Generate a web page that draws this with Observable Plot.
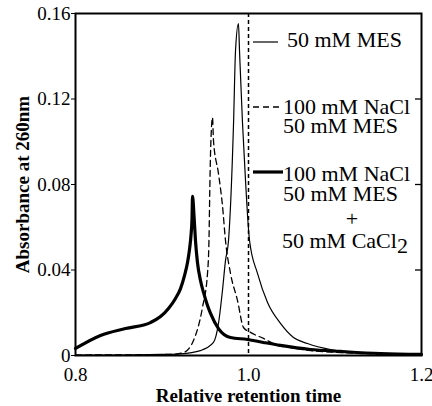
<!DOCTYPE html>
<html><head><meta charset="utf-8">
<script src="https://cdn.jsdelivr.net/npm/d3@7"></script>
<script src="https://cdn.jsdelivr.net/npm/@observablehq/plot@0.6"></script>
<style>
body{margin:0;background:#fff;}
#wrap{position:relative;width:432px;height:406px;}
[aria-label="x-axis label"] text,[aria-label="y-axis label"] text{font-weight:bold;}
</style></head><body><div id="wrap"></div>
<script>
// tick values and labels
const xTicks = [0.8, 1.0, 1.2];
const yTicks = [0, 0.04, 0.08, 0.12, 0.16];
const yTickLabels = ["0", "0.04", "0.08", "0.12", "0.16"];
const rightTicks = [0.04, 0.08, 0.12];
const refLine = [1.0];

// 50 mM MES (thin solid)
const mesX = [0.8000, 0.8520, 0.8983, 0.9214, 0.9445, 0.9595, 0.9653, 0.9699, 0.9734, 0.9769, 0.9827, 0.9850, 0.9884, 0.9896, 0.9931, 0.9942, 1.0012, 1.0104, 1.0220, 1.0370, 1.0520, 1.0682, 1.0948, 1.1295, 1.1642, 1.2000];
const mesY = [0.0002, 0.0002, 0.0005, 0.0008, 0.0023, 0.0061, 0.0150, 0.0304, 0.0444, 0.0538, 0.1085, 0.1427, 0.1553, 0.1427, 0.1085, 0.1000, 0.0538, 0.0384, 0.0248, 0.0150, 0.0084, 0.0056, 0.0028, 0.0014, 0.0007, 0.0005];

// 100 mM NaCl + 50 mM MES (dashed)
const naclX = [0.8000, 0.9098, 0.9249, 0.9364, 0.9468, 0.9526, 0.9543, 0.9553, 0.9561, 0.9584, 0.9595, 0.9653, 0.9699, 0.9734, 0.9792, 0.9873, 0.9942, 1.0023, 1.0173, 1.0335, 1.0486, 1.0717, 1.1064, 1.1526, 1.2000];
const naclY = [0.0002, 0.0005, 0.0014, 0.0070, 0.0225, 0.0384, 0.0538, 0.0786, 0.0945, 0.1113, 0.1006, 0.0851, 0.0702, 0.0538, 0.0384, 0.0257, 0.0131, 0.0108, 0.0080, 0.0047, 0.0037, 0.0023, 0.0014, 0.0007, 0.0005];

// 100 mM NaCl + 50 mM MES + 50 mM CaCl2 (thick)
const caX = [0.8000, 0.8289, 0.8578, 0.8867, 0.8983, 0.9075, 0.9156, 0.9214, 0.9260, 0.9295, 0.9318, 0.9335, 0.9347, 0.9353, 0.9370, 0.9387, 0.9410, 0.9445, 0.9480, 0.9526, 0.9561, 0.9653, 0.9792, 0.9988, 1.0173, 1.0370, 1.0717, 1.1064, 1.1526, 1.2000];
const caY = [0.0033, 0.0094, 0.0126, 0.0154, 0.0182, 0.0220, 0.0267, 0.0313, 0.0374, 0.0435, 0.0496, 0.0561, 0.0641, 0.0744, 0.0655, 0.0538, 0.0435, 0.0351, 0.0295, 0.0234, 0.0197, 0.0126, 0.0084, 0.0075, 0.0061, 0.0047, 0.0028, 0.0019, 0.0009, 0.0005];

const rows = (xs, ys) => xs.map((x, i) => ({x, y: ys[i]}));
const mes = rows(mesX, mesY), nacl = rows(naclX, naclY), ca = rows(caX, caY);

const chart = Plot.plot({
  width: 432, height: 406,
  marginLeft: 75, marginRight: 11, marginTop: 13, marginBottom: 51,
  style: {fontFamily: "'Liberation Serif', 'Times New Roman', serif", fontSize: "19px", color: "#000", background: "#fff"},
  x: {domain: [0.8, 1.2]},
  y: {domain: [0, 0.16]},
  marks: [
    Plot.ruleX(refLine, {stroke: "#000", strokeWidth: 1.5, strokeDasharray: "4,3"}),
    Plot.line(mes, {x: "x", y: "y", stroke: "#000", strokeWidth: 1.2, curve: "monotone-x"}),
    Plot.line(nacl, {x: "x", y: "y", stroke: "#000", strokeWidth: 1.3, strokeDasharray: "6,4", curve: "monotone-x"}),
    Plot.line(ca, {x: "x", y: "y", stroke: "#000", strokeWidth: 3.2, curve: "monotone-x"}),
    Plot.tickY(rightTicks, {y: d => d, stroke: "#000", strokeWidth: 1.3, insetLeft: 340}),
    Plot.frame({stroke: "#000", strokeWidth: 2}),
    Plot.axisY({ticks: yTicks, tickFormat: (d, i) => yTickLabels[i], tickSize: 4, tickPadding: 1,
      label: "Absorbance at 260nm", labelAnchor: "center", labelOffset: 60, labelArrow: "none"}),
    Plot.axisX({ticks: xTicks, tickFormat: d => d.toFixed(1), tickSize: 0, tickPadding: 12,
      label: "Relative retention time", labelAnchor: "center", labelOffset: 46, labelArrow: "none"})
  ]
});
document.getElementById("wrap").appendChild(chart);

// legend overlay
const legendEntries = [
  {lines: ["50 mM MES"], width: 1.2, dash: null, sx: [253, 278], sy: 42, tx: 287, base: [47]},
  {lines: ["100 mM NaCl", "50 mM MES"], width: 1.3, dash: "6,4", sx: [253, 282], sy: 107, tx: 283, base: [114, 133]},
  {lines: ["100 mM NaCl", "50 mM MES", "+", "50 mM CaCl|2"], width: 3.2, dash: null, sx: [253, 283], sy: 172, tx: 283, base: [181, 201, 226, 248]}
];
const lg = d3.select("#wrap").append("svg")
  .attr("width", 432).attr("height", 406)
  .style("position", "absolute").style("left", "0px").style("top", "0px")
  .style("font-family", "'Liberation Serif', 'Times New Roman', serif").style("font-size", "22px");
for (const e of legendEntries) {
  lg.append("line").attr("x1", e.sx[0]).attr("x2", e.sx[1]).attr("y1", e.sy).attr("y2", e.sy)
    .attr("stroke", "#000").attr("stroke-width", e.width).attr("stroke-dasharray", e.dash);
  e.lines.forEach((t, i) => {
    const txt = lg.append("text").attr("y", e.base[i]).attr("fill", "#000");
    if (t === "+") {
      txt.attr("x", 352).attr("text-anchor", "middle").text(t);
    } else if (t.includes("|")) {
      const [a, b] = t.split("|");
      txt.attr("x", e.tx - 1);
      txt.append("tspan").text(a);
      txt.append("tspan").attr("dy", 5).text(b);
    } else {
      txt.attr("x", e.tx).text(t);
    }
  });
}
</script></body></html>
